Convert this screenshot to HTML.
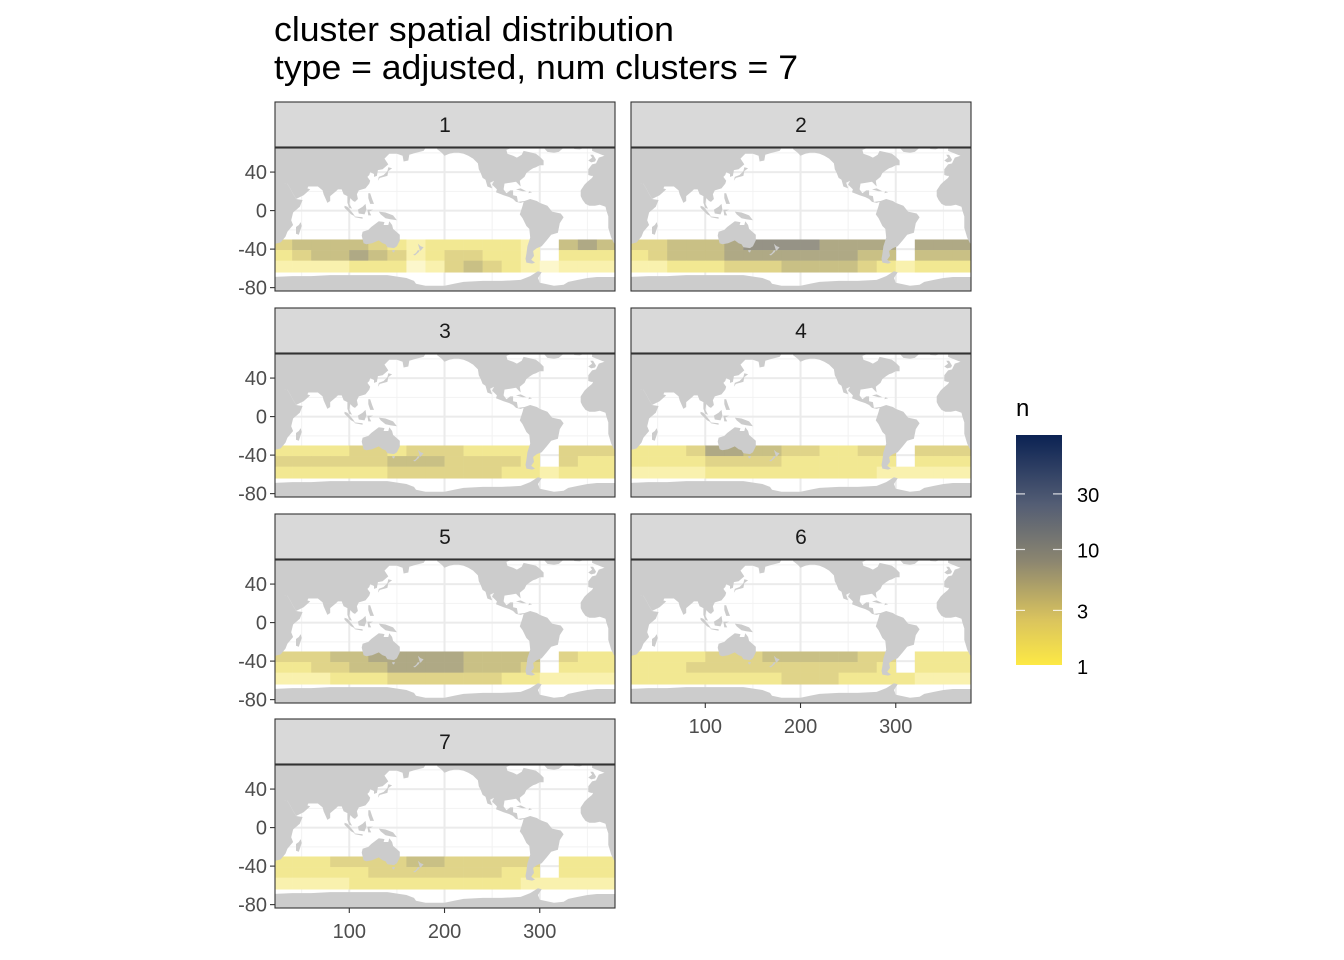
<!DOCTYPE html>
<html><head><meta charset="utf-8">
<style>
html,body{margin:0;padding:0;background:#fff;}
svg{display:block;font-family:"Liberation Sans",Arial,sans-serif;}
</style></head>
<body>
<svg id="chart" width="1344" height="960" viewBox="0 0 1344 960" xmlns="http://www.w3.org/2000/svg">
<text x="274" y="41" font-size="34" textLength="400" lengthAdjust="spacingAndGlyphs" fill="#000">cluster spatial distribution</text>
<text x="274" y="79" font-size="34" textLength="524" lengthAdjust="spacingAndGlyphs" fill="#000">type = adjusted, num clusters = 7</text>
<g id="panels"></g>
<g id="legend">
  <defs>
    <linearGradient id="cbar" x1="0" y1="1" x2="0" y2="0">
      <stop offset="0" stop-color="#fde945"/>
      <stop offset="0.2" stop-color="#d9c35e"/>
      <stop offset="0.45" stop-color="#8c8670"/>
      <stop offset="0.7" stop-color="#535d74"/>
      <stop offset="1" stop-color="#0b2253"/>
    </linearGradient>
  </defs>
  <text x="1016" y="416" font-size="24" fill="#000">n</text>
  <rect x="1016" y="435" width="46" height="230" fill="url(#cbar)"/>
</g>
</svg>
<script>
// ---- data: per-cluster density/darkness grid (0 = empty) ----
const lonBins = [20,40,60,80,100,120,140,160,180,200,220,240,260,280,300,320,340,360];
const latBands = [[-30,-41],[-41,-52],[-52,-64]];
const clusterLabels = ["1","2","3","4","5","6","7"];
const cluster1 = [[4,5,5,5,5,4,3,2,3,3,3,3,3,2,0,5,6,5],[3,4,5,5,6,5,4,2,3,4,4,3,3,2,0,3,3,3],[2,2,2,2,3,3,3,1,2,4,5,4,3,2,1,2,2,2]];
const cluster2 = [[4,4,5,5,5,6,7,7,7,7,6,6,6,6,0,6,6,6],[3,4,5,5,5,6,6,6,6,6,6,6,5,5,0,5,5,5],[2,2,3,3,3,4,4,4,5,5,5,5,4,3,2,3,3,3]];
const cluster3 = [[3,3,3,3,4,4,3,4,4,4,3,3,3,3,0,4,4,4],[4,4,4,4,4,4,5,5,5,4,4,4,4,3,0,4,3,3],[3,3,3,3,3,3,4,4,4,4,4,4,3,3,2,3,3,3]];
const cluster4 = [[3,3,3,4,6,6,5,5,4,4,3,3,4,4,0,4,4,4],[3,3,3,3,4,4,4,4,3,3,3,3,3,3,0,3,3,3],[2,2,2,2,3,3,3,3,3,3,3,3,3,2,2,2,2,2]];
const cluster5 = [[4,4,4,5,5,6,6,6,6,6,5,5,5,5,0,4,3,3],[3,3,4,4,5,5,6,6,6,6,5,5,5,4,0,3,3,3],[2,2,2,3,3,3,4,4,4,4,4,4,3,3,2,2,2,2]];
const cluster6 = [[3,3,3,3,4,4,4,5,5,5,5,5,4,4,0,3,3,3],[3,3,3,4,4,4,4,4,4,4,4,4,4,3,0,3,3,3],[3,3,3,3,3,3,3,3,4,4,4,3,3,3,3,2,2,2]];
const cluster7 = [[3,3,3,4,4,4,4,5,5,4,4,4,4,4,0,3,3,3],[3,3,3,3,3,4,4,4,4,4,4,4,3,3,0,3,3,3],[2,2,2,2,3,3,3,3,3,3,3,3,3,2,2,2,2,2]];
const clusters = [cluster1,cluster2,cluster3,cluster4,cluster5,cluster6,cluster7];
const yTicks = [40,0,-40,-80];
const yTickLabels = ["40","0","-40","-80"];
const xTicks = [100,200,300];
const xTickLabels = ["100","200","300"];
const legendTicks = [30,10,3,1];
const legendTickLabels = ["30","10","3","1"];

// ---- land geometry (lon 0-360, lat) ----
const land = [
 // Eurasia (north / south Asia coast)
 [[0,90],[200,90],[190,66],[180,65],[178,62],[170,60],[163,58],[162,52],[157,51],[156,57],[150,59],[142,59],[137,54],[141,48],[135,43],[130,42],[129,36],[126,35],[126,38],[122,40],[121,37],[119,35],[122,31],[121,28],[117,23],[110,21],[108,17],[109,12],[106,9],[104,10],[101,13],[100,7],[103,2],[100,3],[98,8],[98,15],[94,17],[92,22],[88,22],[86,20],[80,15],[80,10],[77,8],[73,17],[72,21],[67,25],[57,25],[56,23],[59,22],[52,16],[44,12],[35,28],[0,32]],
 // Africa (left)
 [[0,35],[35,28],[44,12],[51,11],[48,4],[41,-2],[39,-10],[41,-15],[35,-22],[33,-27],[28,-33],[20,-35],[0,-35]],
 [[130,31],[132,34],[136,35],[140,36],[141,41],[145,44],[141,45],[140,41],[136,37],[131,35]],
 [[95,5],[98,4],[104,-3],[106,-6],[102,-4],[95,3]],
 [[109,1],[110,-3],[116,-4],[118,1],[117,7],[114,4]],
 [[105,-6],[114,-7],[114,-8.5],[106,-7]],
 [[119,1],[125,1],[121,-1],[123,-5],[120,-5]],
 [[131,-1],[138,-2],[146,-5],[150,-10],[143,-9],[138,-8],[133,-4]],
 [[120,18],[122,18],[124,12],[126,7],[122,7],[120,13]],
 [[114,-22],[113,-26],[115,-34],[118,-35],[124,-34],[131,-31],[135,-34],[138,-35],[140,-38],[147,-39],[150,-37],[153,-31],[153,-25],[146,-19],[145,-15],[142,-11],[141,-15],[136,-15],[137,-12],[131,-11],[127,-14],[123,-17],[120,-20]],
 [[145,-41],[148,-41],[147,-43.5],[145.5,-43]],
 [[172,-34.5],[175,-37],[178,-38],[175,-41.5],[172,-41],[170,-44],[167,-46],[169,-46.5],[173,-43],[174,-41]],
 [[49,-12],[50,-16],[47,-25],[44,-24],[44,-17],[47,-15]],
 [[190,90],[190,66],[194,66],[192,64],[197,60],[200,57],[205,59],[210,60],[215,60],[220,59],[225,57],[230,54],[235,49],[236,43],[238,39],[240,34],[243,32],[245,25],[250,23],[248,29],[252,31],[250,27],[255,22],[254,19],[262,16],[268,14],[272,12],[275,9],[280,8],[283,9],[282,5],[280,-1],[279,-4],[282,-8],[286,-16],[289,-19],[290,-28],[287,-37],[286,-45],[285,-50],[286,-54],[292,-55],[295,-54],[291,-51],[294,-47],[293,-42],[297,-39],[302,-37],[308,-30],[312,-25],[319,-23],[321,-13],[325,-7],[322,-3],[313,-1],[308,5],[300,8],[297,10],[290,12],[284,10],[277,9],[276,15],[272,16],[272,21],[269,21],[265,18],[262,22],[263,28],[269,29],[275,30],[278,27],[280,25],[279,31],[284,35],[286,39],[290,42],[293,44],[296,45],[300,47],[304,47],[304,52],[300,56],[296,59],[292,60],[283,62],[281,58],[276,55],[272,57],[266,59],[265,63],[270,65],[280,66],[290,66],[300,70],[300,90]],
 [[300,90],[300,70],[308,61],[315,60],[320,61],[326,66],[340,70],[340,90]],
 [[336,64],[342,63.5],[346,65],[338,66.5]],
 [[275,22],[282,20],[286,20],[280,23]],
 [[288,18],[292,19],[289,20]],
 [[354,50],[358,51],[359,53],[356,58],[353,58],[355,55],[351,52]],
 [[360,90],[355,70],[355,62],[365,58],[368,57],[362,55],[359,49],[355,48],[351,43],[351,37],[354,36],[356,36],[355,34],[350,30],[347,27],[343,21],[343,15],[345,11],[348,7],[352,5],[358,5],[363,6],[369,4],[370,0],[372,-6],[372,-12],[372,-18],[375,-28],[378,-34],[390,-34],[390,90]],
 [[0,-68],[20,-69],[40,-68],[60,-68],[80,-67],[100,-67],[120,-67],[140,-67],[160,-70],[168,-73],[170,-76],[180,-78],[200,-78],[210,-76],[220,-74],[240,-73],[260,-73],[280,-72],[290,-68],[298,-63],[302,-64],[298,-70],[300,-75],[315,-78],[325,-77],[330,-74],[340,-72],[350,-70],[360,-69],[390,-69],[390,-90],[0,-90]]
];

const NS = "http://www.w3.org/2000/svg";
const colX = [275, 631];
const stripTops = [102, 308, 514, 719];
const PW = 340, STRIPH = 45, MAPH = 143;
const LON0 = 22, LON1 = 379, LAT0 = 65, LAT1 = -83.5;
const darkColors = ["#ffffff","#fcf7cc","#f9f1ae","#f2e892","#e0d489","#c9c085","#afa985","#969386","#7e7f86","#656a80"];

function el(tag, attrs, parent){const e=document.createElementNS(NS,tag);for(const k in attrs)e.setAttribute(k,attrs[k]);parent.appendChild(e);return e;}

const panels = document.getElementById("panels");
clusters.forEach((grid, i) => {
  const px = colX[i % 2], st = stripTops[Math.floor(i / 2)], my = st + STRIPH + 1;
  const sx = lon => px + (lon - LON0) / (LON1 - LON0) * PW;
  const sy = lat => my + (LAT0 - lat) / (LAT0 - LAT1) * MAPH;
  const g = el("g", {}, panels);
  
  
  const strip = el("rect", {x:px, y:st, width:PW, height:STRIPH, fill:"#d9d9d9", stroke:"#333", "stroke-width":1.1}, g);
  
  
  const stxt = el("text", {x:px + PW/2, y:st + 30, "font-size":21, "text-anchor":"middle", fill:"#1a1a1a"}, g);
  stxt.textContent = clusterLabels[i];
  
  
  const cid = "clip" + i;
  const cp = el("clipPath", {id:cid}, g);
  el("rect", {x:px, y:my, width:PW, height:MAPH}, cp);
  const mg = el("g", {"clip-path":"url(#" + cid + ")"}, g);
  
  
  el("rect", {x:px, y:my, width:PW, height:MAPH, fill:"#fff"}, mg);
  [50,150,250,350].forEach(v => el("line", {x1:sx(v), x2:sx(v), y1:my, y2:my+MAPH, stroke:"#f2f2f2", "stroke-width":1}, mg));
  [60,20,-20,-60].forEach(v => el("line", {x1:px, x2:px+PW, y1:sy(v), y2:sy(v), stroke:"#f2f2f2", "stroke-width":1}, mg));
  xTicks.forEach(v => el("line", {x1:sx(v), x2:sx(v), y1:my, y2:my+MAPH, stroke:"#ebebeb", "stroke-width":2}, mg));
  yTicks.forEach(v => el("line", {x1:px, x2:px+PW, y1:sy(v), y2:sy(v), stroke:"#ebebeb", "stroke-width":2}, mg));
  grid.forEach((row, r) => {
    row.forEach((val, c) => {
      if (!val) return;
      const x0 = sx(lonBins[c]), x1 = sx(lonBins[c] + 20);
      const y0 = sy(latBands[r][0]), y1 = sy(latBands[r][1]);
      const cell = el("rect", {x:x0, y:y0, width:x1 - x0 + 0.3, height:y1 - y0 + 0.3, fill:darkColors[val]}, mg);
      
      
    });
  });
  land.forEach(poly => {
    const p = el("polygon", {points: poly.map(q => sx(q[0]).toFixed(1) + "," + sy(q[1]).toFixed(1)).join(" "), fill:"#cccccc"}, mg);
    
    
  });
  const border = el("rect", {x:px, y:my, width:PW, height:MAPH, fill:"none", stroke:"#333", "stroke-width":1.1}, g);
  
  
  if (i % 2 === 0) {
    yTicks.forEach((v, k) => {
      el("line", {x1:px - 5, x2:px, y1:sy(v), y2:sy(v), stroke:"#333", "stroke-width":1.1}, g);
      const t = el("text", {x:px - 8, y:sy(v) + 7, "font-size":20, "text-anchor":"end", fill:"#4d4d4d"}, g);
      t.textContent = yTickLabels[k];
      
      
    });
  }
  if (i === 5 || i === 6) {
    xTicks.forEach((v, k) => {
      el("line", {x1:sx(v), x2:sx(v), y1:my + MAPH, y2:my + MAPH + 5, stroke:"#333", "stroke-width":1.1}, g);
      const t = el("text", {x:sx(v), y:my + MAPH + 30, "font-size":20, "text-anchor":"middle", fill:"#4d4d4d"}, g);
      t.textContent = xTickLabels[k];
      
      
    });
  }
});

// legend ticks (log scale)
const legend = document.getElementById("legend");
const LY0 = 666, LPER = 50.6;
const ly = v => LY0 - Math.log(v) * LPER;
legendTicks.forEach((v, k) => {
  const y = ly(v);
  el("line", {x1:1016, x2:1025, y1:y, y2:y, stroke:"#fff", "stroke-width":1.2, opacity:0.8}, legend);
  el("line", {x1:1053, x2:1062, y1:y, y2:y, stroke:"#fff", "stroke-width":1.2, opacity:0.8}, legend);
  const t = el("text", {x:1077, y:y + 8, "font-size":20, fill:"#000"}, legend);
  t.textContent = legendTickLabels[k];
  
  
});
</script>
</body></html>
